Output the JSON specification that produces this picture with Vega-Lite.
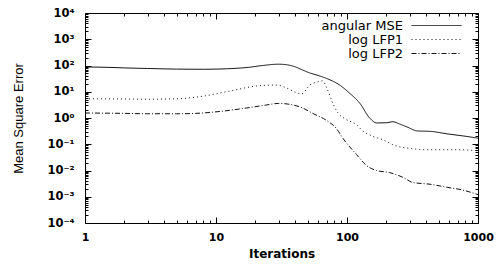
{
  "$schema": "https://vega.github.io/schema/vega-lite/v6.json",
  "width": 393,
  "height": 210,
  "autosize": "none",
  "padding": {"left": 85, "top": 13, "right": 26, "bottom": 41},
  "background": "#ffffff",
  "config": {
    "view": {"stroke": "#000000", "strokeWidth": 1},
    "axis": {"grid": false, "domain": false, "tickColor": "#000000", "tickWidth": 1}
  },
  "datasets": {
    "curves": [
      {"series": "angular MSE", "iteration": 1, "mse": 88},
      {"series": "angular MSE", "iteration": 1.5, "mse": 85},
      {"series": "angular MSE", "iteration": 2, "mse": 81},
      {"series": "angular MSE", "iteration": 3, "mse": 77},
      {"series": "angular MSE", "iteration": 5, "mse": 73},
      {"series": "angular MSE", "iteration": 8, "mse": 72},
      {"series": "angular MSE", "iteration": 12, "mse": 75},
      {"series": "angular MSE", "iteration": 18, "mse": 86},
      {"series": "angular MSE", "iteration": 22, "mse": 98},
      {"series": "angular MSE", "iteration": 30, "mse": 112},
      {"series": "angular MSE", "iteration": 35, "mse": 106},
      {"series": "angular MSE", "iteration": 40, "mse": 90},
      {"series": "angular MSE", "iteration": 45, "mse": 70},
      {"series": "angular MSE", "iteration": 52, "mse": 52},
      {"series": "angular MSE", "iteration": 60, "mse": 42},
      {"series": "angular MSE", "iteration": 70, "mse": 32},
      {"series": "angular MSE", "iteration": 88, "mse": 18},
      {"series": "angular MSE", "iteration": 105, "mse": 8.7},
      {"series": "angular MSE", "iteration": 125, "mse": 3.7},
      {"series": "angular MSE", "iteration": 149, "mse": 1.0},
      {"series": "angular MSE", "iteration": 168, "mse": 0.65},
      {"series": "angular MSE", "iteration": 200, "mse": 0.66},
      {"series": "angular MSE", "iteration": 224, "mse": 0.72},
      {"series": "angular MSE", "iteration": 250, "mse": 0.6},
      {"series": "angular MSE", "iteration": 286, "mse": 0.46},
      {"series": "angular MSE", "iteration": 347, "mse": 0.32},
      {"series": "angular MSE", "iteration": 430, "mse": 0.31},
      {"series": "angular MSE", "iteration": 580, "mse": 0.25},
      {"series": "angular MSE", "iteration": 870, "mse": 0.19},
      {"series": "angular MSE", "iteration": 1000, "mse": 0.17},
      {"series": "log LFP1", "iteration": 1, "mse": 5.4},
      {"series": "log LFP1", "iteration": 2, "mse": 5.3},
      {"series": "log LFP1", "iteration": 3, "mse": 5.2},
      {"series": "log LFP1", "iteration": 5, "mse": 5.4},
      {"series": "log LFP1", "iteration": 8, "mse": 6.8},
      {"series": "log LFP1", "iteration": 12.6, "mse": 10.5},
      {"series": "log LFP1", "iteration": 21.5, "mse": 17},
      {"series": "log LFP1", "iteration": 29, "mse": 18},
      {"series": "log LFP1", "iteration": 35, "mse": 13.5},
      {"series": "log LFP1", "iteration": 41, "mse": 9.3},
      {"series": "log LFP1", "iteration": 45, "mse": 8.3},
      {"series": "log LFP1", "iteration": 52, "mse": 18},
      {"series": "log LFP1", "iteration": 60, "mse": 24},
      {"series": "log LFP1", "iteration": 65, "mse": 26},
      {"series": "log LFP1", "iteration": 71, "mse": 11.8},
      {"series": "log LFP1", "iteration": 76, "mse": 4.9},
      {"series": "log LFP1", "iteration": 85, "mse": 1.6},
      {"series": "log LFP1", "iteration": 99, "mse": 0.87},
      {"series": "log LFP1", "iteration": 118, "mse": 0.56},
      {"series": "log LFP1", "iteration": 131, "mse": 0.33},
      {"series": "log LFP1", "iteration": 154, "mse": 0.21},
      {"series": "log LFP1", "iteration": 187, "mse": 0.15},
      {"series": "log LFP1", "iteration": 231, "mse": 0.09},
      {"series": "log LFP1", "iteration": 300, "mse": 0.07},
      {"series": "log LFP1", "iteration": 392, "mse": 0.062},
      {"series": "log LFP1", "iteration": 537, "mse": 0.062},
      {"series": "log LFP1", "iteration": 665, "mse": 0.062},
      {"series": "log LFP1", "iteration": 1000, "mse": 0.057},
      {"series": "log LFP2", "iteration": 1, "mse": 1.55},
      {"series": "log LFP2", "iteration": 2, "mse": 1.5},
      {"series": "log LFP2", "iteration": 3, "mse": 1.45},
      {"series": "log LFP2", "iteration": 5, "mse": 1.45},
      {"series": "log LFP2", "iteration": 7, "mse": 1.5},
      {"series": "log LFP2", "iteration": 11, "mse": 1.8},
      {"series": "log LFP2", "iteration": 17, "mse": 2.4},
      {"series": "log LFP2", "iteration": 24, "mse": 3.1},
      {"series": "log LFP2", "iteration": 30, "mse": 3.6},
      {"series": "log LFP2", "iteration": 38, "mse": 3.2},
      {"series": "log LFP2", "iteration": 46, "mse": 2.4},
      {"series": "log LFP2", "iteration": 54, "mse": 1.55},
      {"series": "log LFP2", "iteration": 70, "mse": 0.8},
      {"series": "log LFP2", "iteration": 83, "mse": 0.4},
      {"series": "log LFP2", "iteration": 93, "mse": 0.17},
      {"series": "log LFP2", "iteration": 118, "mse": 0.041},
      {"series": "log LFP2", "iteration": 141, "mse": 0.0155},
      {"series": "log LFP2", "iteration": 168, "mse": 0.01},
      {"series": "log LFP2", "iteration": 212, "mse": 0.0083},
      {"series": "log LFP2", "iteration": 267, "mse": 0.0055},
      {"series": "log LFP2", "iteration": 318, "mse": 0.0035},
      {"series": "log LFP2", "iteration": 430, "mse": 0.003},
      {"series": "log LFP2", "iteration": 580, "mse": 0.0023},
      {"series": "log LFP2", "iteration": 765, "mse": 0.0018},
      {"series": "log LFP2", "iteration": 1000, "mse": 0.0012}
    ]
  },
  "data": {"name": "curves"},
  "resolve": {"axis": {"x": "independent", "y": "independent"}},
  "layer": [
    {
      "mark": {"type": "line", "color": "#111111", "strokeWidth": 1, "interpolate": "monotone"},
      "encoding": {
        "x": {
          "field": "iteration", "type": "quantitative",
          "scale": {"type": "log", "domain": [1, 1000], "nice": false},
          "axis": {
            "orient": "bottom", "values": [1, 10, 100, 1000], "ticks": false,
            "labelExpr": "format(datum.value, 'd')",
            "labelFont": "DejaVu Sans", "labelFontWeight": "bold", "labelFontSize": 11, "labelColor": "#000000",
            "labelPadding": 8, "labelFlush": false, "labelOverlap": false,
            "title": "Iterations", "titleFont": "DejaVu Sans", "titleFontWeight": "bold", "titleFontSize": 12,
            "titleColor": "#000000", "titlePadding": 6
          }
        },
        "y": {
          "field": "mse", "type": "quantitative",
          "scale": {"type": "log", "domain": [0.0001, 10000], "nice": false},
          "axis": {
            "orient": "left", "values": [0.0001, 0.001, 0.01, 0.1, 1, 10, 100, 1000, 10000], "ticks": false,
            "labelExpr": "['10⁻⁴','10⁻³','10⁻²','10⁻¹','10⁰','10¹','10²','10³','10⁴'][round(log(datum.value)/LN10)+4]",
            "labelFont": "DejaVu Sans", "labelFontWeight": "bold", "labelFontSize": 11.5, "labelColor": "#000000",
            "labelPadding": 11, "labelFlush": false, "labelOverlap": false,
            "title": "Mean Square Error", "titleFont": "Liberation Sans", "titleFontWeight": "normal", "titleFontSize": 13,
            "titleColor": "#000000", "titlePadding": 21
          }
        },
        "strokeDash": {
          "field": "series", "type": "nominal",
          "scale": {"domain": ["angular MSE", "log LFP1", "log LFP2"], "range": [[1, 0], [1, 3], [5, 2, 1, 2]]},
          "legend": {
            "orient": "none", "legendX": 345, "legendY": 6, "title": null,
            "symbolType": "M-5,0H5", "symbolSize": 100, "symbolStrokeWidth": 1, "symbolStrokeColor": "#111111",
            "labelAlign": "right", "labelOffset": -40, "labelFont": "DejaVu Sans", "labelFontSize": 13,
            "labelColor": "#000000", "rowPadding": -4, "padding": 0
          }
        }
      }
    },
    {
      "mark": {"type": "line", "strokeOpacity": 0},
      "encoding": {
        "x": {"field": "iteration", "type": "quantitative", "scale": {"type": "log", "domain": [1, 1000], "nice": false},
          "axis": {"orient": "bottom", "values": [1, 10, 100, 1000], "tickSize": -6, "labels": false, "title": null}},
        "y": {"field": "mse", "type": "quantitative", "scale": {"type": "log", "domain": [0.0001, 10000], "nice": false},
          "axis": {"orient": "left", "values": [0.0001, 0.001, 0.01, 0.1, 1, 10, 100, 1000, 10000], "tickSize": -6, "labels": false, "title": null}}
      }
    },
    {
      "mark": {"type": "line", "strokeOpacity": 0},
      "encoding": {
        "x": {"field": "iteration", "type": "quantitative", "scale": {"type": "log", "domain": [1, 1000], "nice": false},
          "axis": {"orient": "bottom", "values": [2, 3, 4, 5, 6, 7, 8, 9, 20, 30, 40, 50, 60, 70, 80, 90, 200, 300, 400, 500, 600, 700, 800, 900], "tickSize": -3, "labels": false, "title": null}},
        "y": {"field": "mse", "type": "quantitative", "scale": {"type": "log", "domain": [0.0001, 10000], "nice": false},
          "axis": {"orient": "left", "values": [0.0002, 0.0003, 0.0004, 0.0005, 0.0006, 0.0007, 0.0008, 0.0009, 0.002, 0.003, 0.004, 0.005, 0.006, 0.007, 0.008, 0.009, 0.02, 0.03, 0.04, 0.05, 0.06, 0.07, 0.08, 0.09, 0.2, 0.3, 0.4, 0.5, 0.6, 0.7, 0.8, 0.9, 2, 3, 4, 5, 6, 7, 8, 9, 20, 30, 40, 50, 60, 70, 80, 90, 200, 300, 400, 500, 600, 700, 800, 900, 2000, 3000, 4000, 5000, 6000, 7000, 8000, 9000], "tickSize": -3, "labels": false, "title": null}}
      }
    },
    {
      "mark": {"type": "line", "strokeOpacity": 0},
      "encoding": {
        "x": {"field": "iteration", "type": "quantitative", "scale": {"type": "log", "domain": [1, 1000], "nice": false},
          "axis": {"orient": "top", "values": [1, 10, 100, 1000], "tickSize": -6, "labels": false, "title": null}},
        "y": {"field": "mse", "type": "quantitative", "scale": {"type": "log", "domain": [0.0001, 10000], "nice": false},
          "axis": {"orient": "right", "values": [0.0001, 0.001, 0.01, 0.1, 1, 10, 100, 1000, 10000], "tickSize": -6, "labels": false, "title": null}}
      }
    },
    {
      "mark": {"type": "line", "strokeOpacity": 0},
      "encoding": {
        "x": {"field": "iteration", "type": "quantitative", "scale": {"type": "log", "domain": [1, 1000], "nice": false},
          "axis": {"orient": "top", "values": [2, 3, 4, 5, 6, 7, 8, 9, 20, 30, 40, 50, 60, 70, 80, 90, 200, 300, 400, 500, 600, 700, 800, 900], "tickSize": -3, "labels": false, "title": null}},
        "y": {"field": "mse", "type": "quantitative", "scale": {"type": "log", "domain": [0.0001, 10000], "nice": false},
          "axis": {"orient": "right", "values": [0.0002, 0.0003, 0.0004, 0.0005, 0.0006, 0.0007, 0.0008, 0.0009, 0.002, 0.003, 0.004, 0.005, 0.006, 0.007, 0.008, 0.009, 0.02, 0.03, 0.04, 0.05, 0.06, 0.07, 0.08, 0.09, 0.2, 0.3, 0.4, 0.5, 0.6, 0.7, 0.8, 0.9, 2, 3, 4, 5, 6, 7, 8, 9, 20, 30, 40, 50, 60, 70, 80, 90, 200, 300, 400, 500, 600, 700, 800, 900, 2000, 3000, 4000, 5000, 6000, 7000, 8000, 9000], "tickSize": -3, "labels": false, "title": null}}
      }
    }
  ]
}
